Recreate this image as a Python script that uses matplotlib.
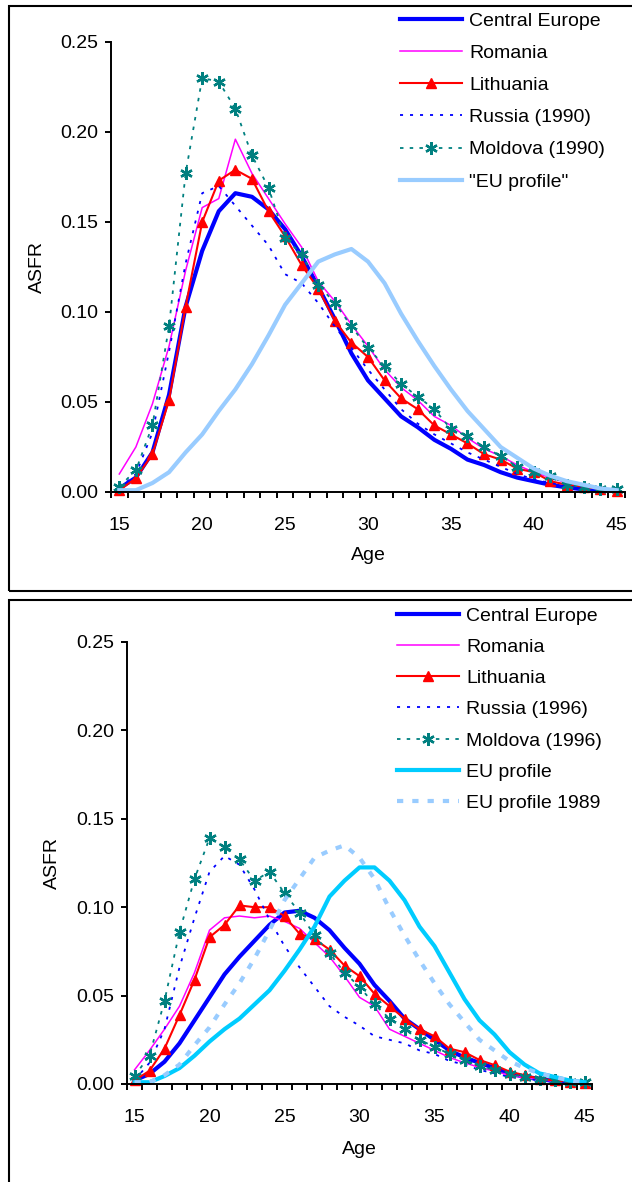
import matplotlib
matplotlib.use('Agg')
import matplotlib.pyplot as plt
from matplotlib.patches import Rectangle

plt.rcParams['font.family'] = ['Liberation Sans', 'DejaVu Sans']
plt.rcParams['lines.scale_dashes'] = False

ages = list(range(15, 46))

# upper panel (around 1990)
central_europe_a = [0.002, 0.008, 0.022, 0.054, 0.103, 0.134, 0.156, 0.166, 0.164, 0.157, 0.146,
                    0.131, 0.114, 0.096, 0.077, 0.062, 0.052, 0.042, 0.036, 0.029, 0.024, 0.018,
                    0.015, 0.011, 0.008, 0.006, 0.004, 0.0025, 0.0015, 0.001, 0.0005]
romania_a = [0.010, 0.025, 0.049, 0.081, 0.123, 0.158, 0.163, 0.196, 0.177, 0.163, 0.149, 0.136,
             0.117, 0.106, 0.093, 0.081, 0.068, 0.058, 0.051, 0.042, 0.037, 0.030, 0.024, 0.020,
             0.015, 0.011, 0.008, 0.005, 0.003, 0.002, 0.001]
lithuania_a = [0.001, 0.0076, 0.021, 0.051, 0.103, 0.150, 0.173, 0.179, 0.174, 0.156, 0.142, 0.126,
               0.113, 0.095, 0.083, 0.075, 0.062, 0.052, 0.046, 0.037, 0.032, 0.027, 0.021, 0.018,
               0.013, 0.011, 0.006, 0.004, 0.003, 0.0015, 0.0005]
russia_1990 = [0.002, 0.010, 0.033, 0.078, 0.127, 0.166, 0.170, 0.159, 0.148, 0.137, 0.121, 0.116,
               0.105, 0.092, 0.080, 0.068, 0.057, 0.046, 0.038, 0.032, 0.027, 0.022, 0.018, 0.014,
               0.010, 0.007, 0.005, 0.003, 0.002, 0.001, 0.0005]
moldova_1990 = [0.003, 0.012, 0.037, 0.092, 0.177, 0.230, 0.228, 0.213, 0.187, 0.169, 0.141, 0.132,
                0.115, 0.105, 0.092, 0.080, 0.070, 0.060, 0.053, 0.046, 0.035, 0.031, 0.025, 0.020,
                0.014, 0.011, 0.009, 0.004, 0.003, 0.0015, 0.0015]
eu_profile_a = [0.001, 0.001, 0.005, 0.011, 0.022, 0.032, 0.045, 0.057, 0.071, 0.087, 0.104, 0.116,
                0.128, 0.132, 0.135, 0.128, 0.116, 0.099, 0.084, 0.070, 0.057, 0.045, 0.035, 0.025,
                0.019, 0.013, 0.009, 0.006, 0.004, 0.002, 0.001]

# lower panel (around 1996)
central_europe_b = [0.002, 0.0057, 0.0126, 0.023, 0.036, 0.049, 0.062, 0.072, 0.081, 0.090, 0.097,
                    0.098, 0.094, 0.087, 0.077, 0.068, 0.056, 0.047, 0.037, 0.031, 0.025, 0.019,
                    0.015, 0.012, 0.009, 0.006, 0.004, 0.003, 0.0015, 0.001, 0.0005]
romania_b = [0.008, 0.019, 0.031, 0.044, 0.063, 0.087, 0.094, 0.095, 0.094, 0.095, 0.092, 0.088,
             0.080, 0.072, 0.061, 0.049, 0.044, 0.031, 0.027, 0.023, 0.019, 0.015, 0.012, 0.0094,
             0.0072, 0.005, 0.0035, 0.0025, 0.0015, 0.001, 0.0005]
lithuania_b = [0.002, 0.0075, 0.020, 0.039, 0.059, 0.083, 0.090, 0.101, 0.100, 0.100, 0.095, 0.085,
               0.082, 0.076, 0.067, 0.061, 0.051, 0.044, 0.037, 0.031, 0.027, 0.020, 0.018, 0.0136,
               0.0107, 0.007, 0.005, 0.003, 0.002, 0.001, 0.0005]
russia_1996 = [0.002, 0.012, 0.031, 0.066, 0.094, 0.120, 0.129, 0.124, 0.110, 0.093, 0.078, 0.066,
               0.055, 0.044, 0.038, 0.033, 0.027, 0.025, 0.023, 0.019, 0.017, 0.013, 0.011, 0.008,
               0.006, 0.004, 0.003, 0.002, 0.001, 0.0008, 0.0005]
moldova_1996 = [0.0045, 0.016, 0.047, 0.086, 0.116, 0.139, 0.134, 0.127, 0.115, 0.120, 0.108, 0.097,
                0.084, 0.074, 0.063, 0.055, 0.045, 0.037, 0.031, 0.025, 0.021, 0.017, 0.0136, 0.010,
                0.008, 0.0057, 0.004, 0.0027, 0.002, 0.001, 0.001]
eu_profile_b = [0.001, 0.001, 0.0045, 0.009, 0.016, 0.024, 0.031, 0.037, 0.045, 0.053, 0.064, 0.076,
                0.089, 0.106, 0.115, 0.1225, 0.1225, 0.115, 0.104, 0.089, 0.078, 0.063, 0.048,
                0.036, 0.028, 0.018, 0.011, 0.006, 0.004, 0.002, 0.001]
eu_profile_1989 = eu_profile_a

yticks = [0.00, 0.05, 0.10, 0.15, 0.20, 0.25]
xticks = [15, 20, 25, 30, 35, 40, 45]

W, H = 632, 1182
FS = 14


def fx(px):
    return px / W


def fy(py):
    return 1 - py / H


# line styles per series type
st_ce = dict(color='#0000FF', lw=3.0)
st_rom = dict(color='#FF00FF', lw=1.1)
st_lit = dict(color='#FF0000', lw=1.5, marker='^', ms=7)
st_rus = dict(color='#0000FF', lw=1.3, ls=(0, (2.2, 5)))
st_mol = dict(color='#008080', lw=1.3, ls=(0, (2.5, 4.5)), marker=(6, 2, 0), ms=9, mew=1.7)
st_eu_light = dict(color='#99CCFF', lw=3.0)
st_eu_cyan = dict(color='#00CCFF', lw=3.0)
st_eu_dash = dict(color='#99CCFF', lw=3.0, ls=(0, (4.5, 6.5)))


def draw_panel(fig, left, right, y0, y25, series, leg_x, leg_top, spacing, ylab_x, xlab_y):
    ax = fig.add_axes([fx(left), fy(y0), (right - left) / W, (y0 - y25) / H])
    handles = []
    for label, vals, st in series:
        h, = ax.plot(ages, vals, label=label, clip_on=False, **st)
        handles.append(h)
    ax.set_xlim(14.5, 45.5)
    ax.set_ylim(0, 0.25)
    ax.set_yticks(yticks)
    ax.set_yticklabels(['%.2f' % v for v in yticks])
    ax.set_xticks(xticks)
    ax.set_xticks([a - 0.5 for a in ages] + [45.5], minor=True)
    ax.tick_params(axis='x', which='major', length=0, pad=18, labelsize=FS)
    ax.tick_params(axis='x', which='minor', length=4, width=1.4, direction='out')
    ax.tick_params(axis='y', which='major', length=4.5, width=1.4, pad=5, labelsize=FS)
    for s in ('top', 'right'):
        ax.spines[s].set_visible(False)
    for s in ('left', 'bottom'):
        ax.spines[s].set_linewidth(1.4)
    ax.legend(handles=handles, loc='upper left', bbox_to_anchor=(fx(leg_x), fy(leg_top)),
              bbox_transform=fig.transFigure, frameon=False, borderpad=0, borderaxespad=0,
              handlelength=3.2, handletextpad=0.35, labelspacing=spacing, fontsize=FS)
    fig.text(fx(ylab_x), fy((y0 + y25) / 2), 'ASFR', rotation=90, ha='center', va='center',
             fontsize=FS)
    fig.text(fx((left + right) / 2), fy(xlab_y), 'Age', ha='center', va='center', fontsize=FS)
    return ax


fig = plt.figure(figsize=(W / 100, H / 100), dpi=100)

# panel frames
fig.add_artist(Rectangle((fx(9), fy(591)), 1.2, (591 - 6) / H, transform=fig.transFigure,
                         fill=False, lw=1.5, ec='black'))
fig.add_artist(Rectangle((fx(9), fy(1250)), 1.2, (1250 - 600) / H, transform=fig.transFigure,
                         fill=False, lw=1.5, ec='black'))

top_series = [
    ('Central Europe', central_europe_a, st_ce),
    ('Romania', romania_a, st_rom),
    ('Lithuania', lithuania_a, st_lit),
    ('Russia (1990)', russia_1990, st_rus),
    ('Moldova (1990)', moldova_1990, st_mol),
    ('"EU profile"', eu_profile_a, st_eu_light),
]
bottom_series = [
    ('Central Europe', central_europe_b, st_ce),
    ('Romania', romania_b, st_rom),
    ('Lithuania', lithuania_b, st_lit),
    ('Russia (1996)', russia_1996, st_rus),
    ('Moldova (1996)', moldova_1996, st_mol),
    ('EU profile', eu_profile_b, st_eu_cyan),
    ('EU profile 1989', eu_profile_1989, st_eu_dash),
]

draw_panel(fig, 111, 625, 492, 42, top_series, 400, 12, 0.75, 37, 555)
draw_panel(fig, 127, 592, 1084, 642, bottom_series, 397, 607, 0.70, 52, 1149)

fig.savefig('out.png', dpi=100)
